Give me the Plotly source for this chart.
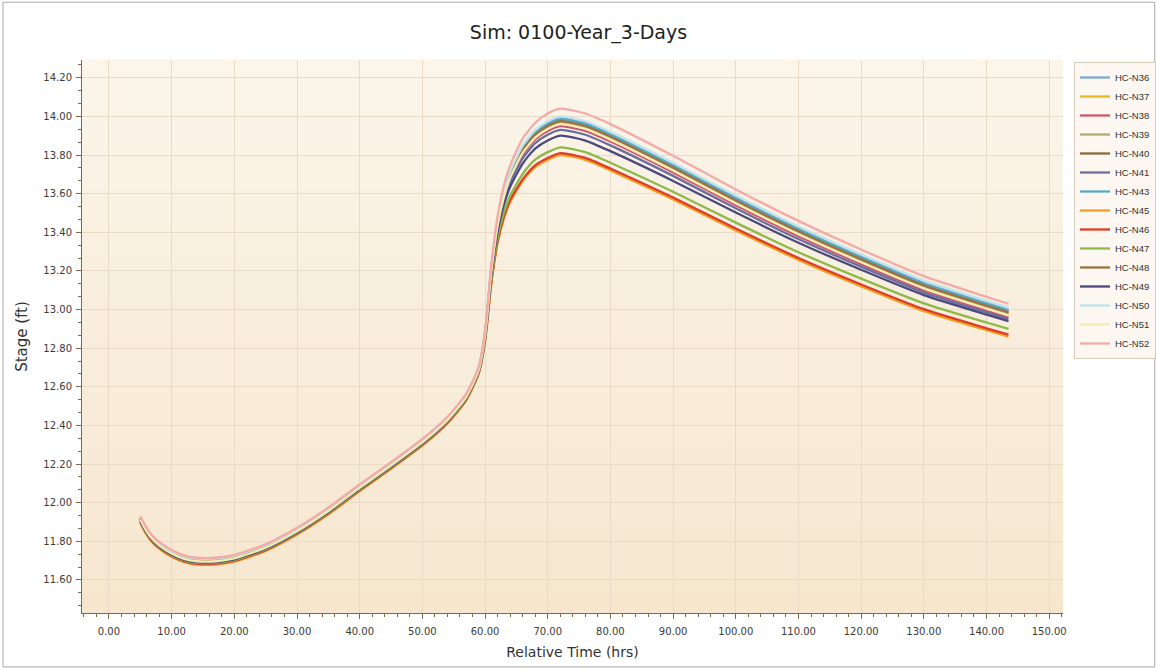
import plotly.graph_objects as go

# ---------------- data ----------------
time_hrs = [5, 6, 7, 8, 10, 12, 14, 17, 20, 25, 30, 35, 40, 45, 50, 54, 57,
            59, 60, 61, 62, 63, 64, 66, 68, 70, 72, 76, 80, 90, 100, 110, 120, 130, 140, 143.5]

hc_n36 = [11.923, 11.863, 11.820, 11.790, 11.748, 11.720, 11.708, 11.708, 11.723, 11.778, 11.863, 11.968, 12.088, 12.203, 12.323, 12.438, 12.558,
          12.698, 12.879, 13.212, 13.454, 13.606, 13.707, 13.838, 13.919, 13.965, 13.990, 13.965, 13.910, 13.750, 13.580, 13.420, 13.275, 13.140, 13.035, 13.000]
hc_n37 = [11.915, 11.855, 11.812, 11.782, 11.740, 11.712, 11.700, 11.700, 11.715, 11.770, 11.855, 11.960, 12.080, 12.195, 12.315, 12.430, 12.550,
          12.690, 12.870, 13.200, 13.440, 13.590, 13.690, 13.820, 13.900, 13.945, 13.970, 13.945, 13.890, 13.730, 13.560, 13.400, 13.255, 13.120, 13.015, 12.980]
hc_n38 = [11.911, 11.851, 11.808, 11.778, 11.736, 11.708, 11.696, 11.696, 11.711, 11.766, 11.851, 11.956, 12.076, 12.191, 12.311, 12.426, 12.546,
          12.686, 12.864, 13.191, 13.428, 13.576, 13.674, 13.802, 13.881, 13.925, 13.950, 13.925, 13.870, 13.710, 13.540, 13.380, 13.235, 13.100, 12.995, 12.960]
hc_n39 = [11.913, 11.853, 11.810, 11.780, 11.738, 11.710, 11.698, 11.698, 11.713, 11.768, 11.853, 11.958, 12.078, 12.193, 12.313, 12.428, 12.548,
          12.688, 12.867, 13.197, 13.436, 13.586, 13.686, 13.815, 13.895, 13.940, 13.965, 13.940, 13.885, 13.725, 13.555, 13.395, 13.250, 13.115, 13.010, 12.975]
hc_n40 = [11.919, 11.859, 11.816, 11.786, 11.744, 11.716, 11.704, 11.704, 11.719, 11.774, 11.859, 11.964, 12.084, 12.199, 12.319, 12.434, 12.554,
          12.694, 12.875, 13.206, 13.447, 13.598, 13.699, 13.829, 13.910, 13.955, 13.980, 13.955, 13.900, 13.740, 13.570, 13.410, 13.265, 13.130, 13.025, 12.990]
hc_n41 = [11.909, 11.849, 11.806, 11.776, 11.734, 11.706, 11.694, 11.694, 11.709, 11.764, 11.849, 11.954, 12.074, 12.189, 12.309, 12.424, 12.544,
          12.684, 12.861, 13.184, 13.417, 13.562, 13.658, 13.783, 13.862, 13.905, 13.930, 13.905, 13.850, 13.692, 13.524, 13.365, 13.222, 13.088, 12.985, 12.950]
hc_n43 = [11.921, 11.861, 11.818, 11.788, 11.746, 11.718, 11.706, 11.706, 11.721, 11.776, 11.861, 11.966, 12.086, 12.201, 12.321, 12.436, 12.556,
          12.696, 12.877, 13.209, 13.451, 13.602, 13.703, 13.834, 13.915, 13.960, 13.985, 13.960, 13.905, 13.745, 13.575, 13.415, 13.270, 13.135, 13.030, 12.995]
hc_n45 = [11.895, 11.835, 11.792, 11.762, 11.720, 11.692, 11.680, 11.680, 11.695, 11.750, 11.835, 11.940, 12.060, 12.175, 12.295, 12.410, 12.530,
          12.670, 12.835, 13.135, 13.345, 13.472, 13.557, 13.665, 13.737, 13.775, 13.800, 13.775, 13.720, 13.570, 13.410, 13.257, 13.120, 12.992, 12.893, 12.860]
hc_n46 = [11.899, 11.839, 11.796, 11.766, 11.724, 11.696, 11.684, 11.684, 11.699, 11.754, 11.839, 11.944, 12.064, 12.179, 12.299, 12.414, 12.534,
          12.674, 12.840, 13.141, 13.352, 13.480, 13.566, 13.674, 13.747, 13.785, 13.810, 13.785, 13.730, 13.580, 13.420, 13.267, 13.130, 13.002, 12.903, 12.870]
hc_n47 = [11.903, 11.843, 11.800, 11.770, 11.728, 11.700, 11.688, 11.688, 11.703, 11.758, 11.843, 11.948, 12.068, 12.183, 12.303, 12.418, 12.538,
          12.678, 12.846, 13.153, 13.369, 13.501, 13.589, 13.702, 13.776, 13.815, 13.840, 13.815, 13.760, 13.610, 13.450, 13.297, 13.160, 13.032, 12.933, 12.900]
hc_n48 = [11.917, 11.857, 11.814, 11.784, 11.742, 11.714, 11.702, 11.702, 11.717, 11.772, 11.857, 11.962, 12.082, 12.197, 12.317, 12.432, 12.552,
          12.692, 12.873, 13.203, 13.444, 13.594, 13.694, 13.825, 13.905, 13.950, 13.975, 13.950, 13.895, 13.735, 13.565, 13.405, 13.260, 13.125, 13.020, 12.985]
hc_n49 = [11.907, 11.847, 11.804, 11.774, 11.732, 11.704, 11.692, 11.692, 11.707, 11.762, 11.847, 11.952, 12.072, 12.187, 12.307, 12.422, 12.542,
          12.682, 12.856, 13.173, 13.401, 13.542, 13.635, 13.756, 13.833, 13.875, 13.900, 13.875, 13.820, 13.666, 13.502, 13.346, 13.206, 13.075, 12.974, 12.940]
hc_n50 = [11.925, 11.865, 11.822, 11.792, 11.750, 11.722, 11.710, 11.710, 11.725, 11.780, 11.865, 11.970, 12.090, 12.205, 12.325, 12.440, 12.560,
          12.700, 12.882, 13.216, 13.460, 13.613, 13.715, 13.848, 13.929, 13.975, 14.000, 13.975, 13.920, 13.760, 13.590, 13.430, 13.285, 13.150, 13.045, 13.010]
hc_n51 = [11.912, 11.852, 11.809, 11.779, 11.737, 11.709, 11.697, 11.697, 11.712, 11.767, 11.852, 11.957, 12.077, 12.192, 12.312, 12.427, 12.547,
          12.687, 12.866, 13.195, 13.433, 13.582, 13.682, 13.811, 13.890, 13.935, 13.960, 13.935, 13.880, 13.720, 13.550, 13.390, 13.245, 13.110, 13.005, 12.970]
hc_n52 = [11.930, 11.870, 11.827, 11.797, 11.755, 11.727, 11.715, 11.715, 11.730, 11.785, 11.870, 11.975, 12.095, 12.210, 12.330, 12.445, 12.565,
          12.705, 12.891, 13.232, 13.483, 13.641, 13.746, 13.885, 13.967, 14.015, 14.040, 14.015, 13.960, 13.796, 13.622, 13.459, 13.311, 13.173, 13.066, 13.030]

series_names = ["HC-N36", "HC-N37", "HC-N38", "HC-N39", "HC-N40", "HC-N41", "HC-N43", "HC-N45",
                "HC-N46", "HC-N47", "HC-N48", "HC-N49", "HC-N50", "HC-N51", "HC-N52"]
series_values = [hc_n36, hc_n37, hc_n38, hc_n39, hc_n40, hc_n41, hc_n43, hc_n45,
                 hc_n46, hc_n47, hc_n48, hc_n49, hc_n50, hc_n51, hc_n52]

x_tick_vals = [0, 10, 20, 30, 40, 50, 60, 70, 80, 90, 100, 110, 120, 130, 140, 150]
y_tick_vals = [11.6, 11.8, 12.0, 12.2, 12.4, 12.6, 12.8, 13.0, 13.2, 13.4, 13.6, 13.8, 14.0, 14.2]

# ---------------- styles ----------------
colors = ["#7FA9D6", "#E9B820", "#CC5570", "#ADAD72", "#8C6A3C", "#6E6E9E", "#55A9C4", "#F0A020",
          "#DE3C28", "#8DB84A", "#9C7242", "#4A4A80", "#BFE3EC", "#F5ECB2", "#F2ABA8"]

FONT = "DejaVu Sans"
LEGEND_FONT = "Liberation Sans"

fig = go.Figure()
for name, vals, col in zip(series_names, series_values, colors):
    fig.add_trace(go.Scatter(
        x=time_hrs, y=vals, name=name, mode="lines",
        line=dict(color=col, width=2.3, shape="spline", smoothing=0.6),
    ))

# plot background gradient (top lighter, bottom more tan)
top_rgb = (251, 245, 234)
bot_rgb = (246, 230, 206)
n_bands = 30
shapes = []
for i in range(n_bands):
    t = i / (n_bands - 1)
    r = round(top_rgb[0] + (bot_rgb[0] - top_rgb[0]) * t)
    g = round(top_rgb[1] + (bot_rgb[1] - top_rgb[1]) * t)
    b = round(top_rgb[2] + (bot_rgb[2] - top_rgb[2]) * t)
    shapes.append(dict(type="rect", xref="paper", yref="paper",
                       x0=0, x1=1, y0=1 - (i + 1) / n_bands, y1=1 - i / n_bands + 0.001,
                       fillcolor=f"rgb({r},{g},{b})", line=dict(width=0), layer="below"))
# outer frame of the figure
shapes.append(dict(type="rect", xref="paper", yref="paper",
                   x0=-0.0805, x1=1.0935, y0=-0.0975, y1=1.1045,
                   line=dict(color="#A8A8A8", width=1), fillcolor="rgba(0,0,0,0)", layer="above"))

fig.update_layout(
    width=1157, height=669,
    margin=dict(l=82, r=94, t=60, b=56, autoexpand=False),
    paper_bgcolor="white",
    plot_bgcolor="#F9EEDD",
    shapes=shapes,
    font=dict(family=FONT, color="#333333", size=11),
    title=dict(text="Sim: 0100-Year_3-Days", x=0.5, xanchor="center", y=0.951, yanchor="middle",
               font=dict(family=FONT, size=19, color="#222222")),
    showlegend=True,
    legend=dict(x=1.0112, xanchor="left", y=0.9964, yanchor="top",
                bgcolor="#FCF8F1", bordercolor="#D6CBBA", borderwidth=1,
                font=dict(family=LEGEND_FONT, size=9.5, color="#333333"),
                tracegroupgap=0, itemwidth=30),
    xaxis=dict(
        range=[-4.3, 152.2], tickvals=x_tick_vals, ticktext=[f"{v:.2f}" for v in x_tick_vals],
        showgrid=True, gridcolor="#E8DCC8", gridwidth=1, zeroline=False,
        showline=True, linecolor="#7A6A50", linewidth=1,
        ticks="outside", ticklen=5, tickcolor="#7A6A50", ticklabelstandoff=4,
        minor=dict(dtick=2, ticks="outside", ticklen=3, tickcolor="#7A6A50", showgrid=False),
        tickfont=dict(family=FONT, size=10, color="#3A3A3A"),
        title=dict(text="Relative Time (hrs)", font=dict(family=FONT, size=14, color="#333333"), standoff=11),
    ),
    yaxis=dict(
        range=[11.429, 14.292], tickvals=y_tick_vals, ticktext=[f"{v:.2f}" for v in y_tick_vals],
        showgrid=True, gridcolor="#E8DCC8", gridwidth=1, zeroline=False,
        showline=True, linecolor="#7A6A50", linewidth=1,
        ticks="outside", ticklen=5, tickcolor="#7A6A50", ticklabelstandoff=2,
        minor=dict(tick0=11.6, dtick=0.2 / 3, ticks="outside", ticklen=3, tickcolor="#7A6A50", showgrid=False),
        tickfont=dict(family=FONT, size=10, color="#3A3A3A"),
        title=dict(text="Stage (ft)", font=dict(family=FONT, size=15, color="#333333"), standoff=12),
    ),
)

fig.write_html("out.html", config={"displayModeBar": False},
               post_script="document.body.style.margin='0px';")
